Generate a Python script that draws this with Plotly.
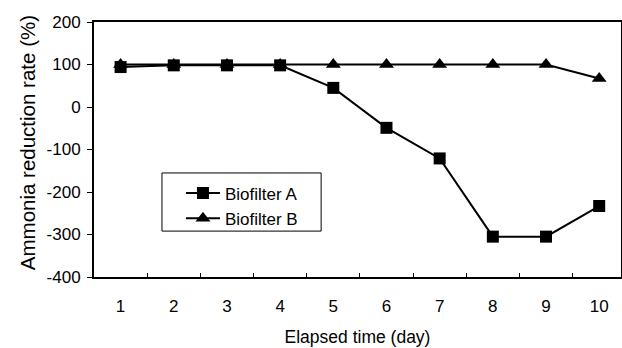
import plotly.graph_objects as go

days = [1, 2, 3, 4, 5, 6, 7, 8, 9, 10]
day_labels = ["1", "2", "3", "4", "5", "6", "7", "8", "9", "10"]
biofilter_a = [94, 98, 98, 98, 45, -49, -121, -305, -305, -233]
biofilter_b = [100, 100, 100, 100, 100, 100, 100, 100, 100, 67]
boundaries = [1.5, 2.5, 3.5, 4.5, 5.5, 6.5, 7.5, 8.5, 9.5]
y_ticks = [200, 100, 0, -100, -200, -300, -400]
y_tick_labels = ["200", "100", "0", "-100", "-200", "-300", "-400"]
x_title = "Elapsed time (day)"
y_title = "Ammonia reduction rate (%)"

FONT = "Liberation Sans, Arial, sans-serif"

fig = go.Figure()
fig.add_trace(go.Scatter(
    x=days, y=biofilter_b, name="Biofilter B", mode="lines+markers",
    line=dict(color="black", width=2),
    marker=dict(symbol="triangle-up", size=13, color="black"),
    legendrank=2,
))
fig.add_trace(go.Scatter(
    x=days, y=biofilter_a, name="Biofilter A", mode="lines+markers",
    line=dict(color="black", width=2),
    marker=dict(symbol="square", size=12, color="black"),
    legendrank=1,
))
# invisible trace to carry the boundary-tick axis
fig.add_trace(go.Scatter(x=boundaries, y=[0] * len(boundaries), xaxis="x2",
                         mode="markers", marker=dict(opacity=0),
                         showlegend=False, hoverinfo="skip"))

fig.update_layout(
    width=622, height=348,
    margin=dict(l=94, r=1, t=22, b=71, autoexpand=False),
    paper_bgcolor="white", plot_bgcolor="white",
    font=dict(family=FONT, size=17, color="black"),
    showlegend=True,
    legend=dict(
        x=0.165, y=0.398, xanchor="left", yanchor="top",
        borderwidth=0, bgcolor="rgba(0,0,0,0)",
        font=dict(family=FONT, size=17, color="black"),
        itemwidth=34, tracegroupgap=0,
    ),
    shapes=[dict(type="rect", xref="paper", yref="paper",
                 x0=0.129, x1=0.431, y0=0.180, y1=0.408,
                 line=dict(color="black", width=1), fillcolor="rgba(0,0,0,0)",
                 layer="below")],
    annotations=[dict(text=y_title, textangle=-90, xref="paper", yref="paper",
                      x=-0.127, y=0.525, xanchor="center", yanchor="middle",
                      showarrow=False, font=dict(family=FONT, size=20.5, color="black"))],
    xaxis=dict(
        range=[0.5, 10.41], tickmode="array", tickvals=days, ticktext=day_labels,
        ticks="", showgrid=False, zeroline=False,
        showline=True, linecolor="black", linewidth=2, mirror=True,
        ticklabelstandoff=13,
        title=dict(text=x_title, font=dict(size=17.5), standoff=15),
    ),
    xaxis2=dict(
        range=[0.5, 10.41], overlaying="x", side="bottom",
        tickmode="array", tickvals=boundaries, ticks="inside", ticklen=4,
        tickcolor="black", tickwidth=1, showticklabels=False,
        showgrid=False, zeroline=False, showline=False,
    ),
    yaxis=dict(
        range=[-400, 200], tickmode="array", tickvals=y_ticks, ticktext=y_tick_labels,
        ticks="outside", ticklen=5, tickcolor="black", tickwidth=1,
        showgrid=False, zeroline=False,
        showline=True, linecolor="black", linewidth=2, mirror=True,
        ticklabelstandoff=3,
    ),
)

fig.write_html("out.html")
